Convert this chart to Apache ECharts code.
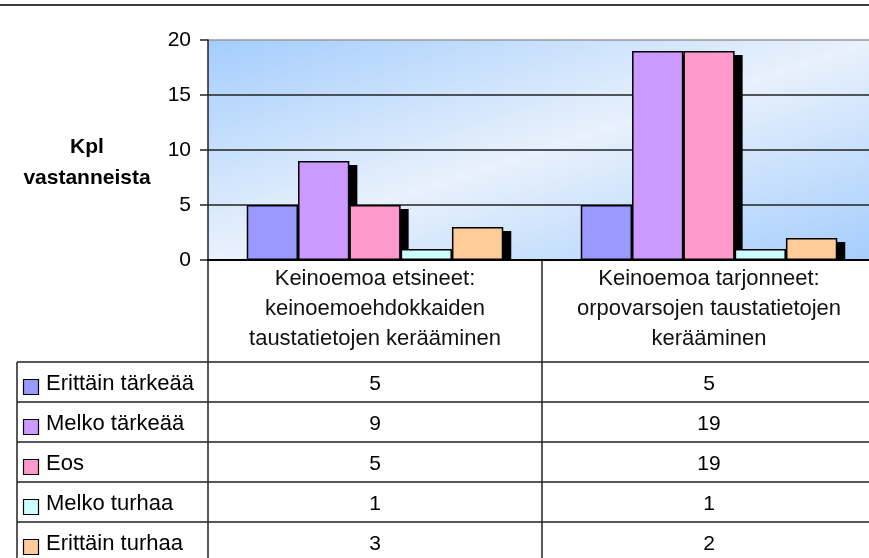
<!DOCTYPE html>
<html>
<head>
<meta charset="utf-8">
<script src="https://cdn.jsdelivr.net/npm/echarts@6/dist/echarts.min.js"></script>
<style>
html, body { margin: 0; padding: 0; background: #fff; }
#chart { width: 869px; height: 558px; }
</style>
</head>
<body>
<div id="chart"></div>
<script>
// data
var categories = [
	'Keinoemoa etsineet:\nkeinoemoehdokkaiden\ntaustatietojen kerääminen',
	'Keinoemoa tarjonneet:\norpovarsojen taustatietojen\nkerääminen'
];
var seriesNames = ['Erittäin tärkeää', 'Melko tärkeää', 'Eos', 'Melko turhaa', 'Erittäin turhaa'];
var seriesColors = ['#9999ff', '#cc99ff', '#ff99cc', '#ccffff', '#ffcc99'];
var erittainTarkeaa = [5, 5];
var melkoTarkeaa = [9, 19];
var eos = [5, 19];
var melkoTurhaa = [1, 1];
var erittainTurhaa = [3, 2];
var seriesValues = [erittainTarkeaa, melkoTarkeaa, eos, melkoTurhaa, erittainTurhaa];
var yMax = 20;
var yStep = 5;
var yName = 'Kpl\nvastanneista';

var font = 'Liberation Sans, Arial, sans-serif';
var plotLeft = 208, plotTop = 40, plotWidth = 668, plotHeight = 220;
var plotBottom = plotTop + plotHeight;
var tableTop = 362, rowH = 40, tableLeft = 17, pageW = 869, pageH = 558;
var gapRatio = 0.232;
var nBars = seriesNames.length;

var myChart = echarts.init(document.getElementById('chart'));

var series = [];
for (var i = 0; i < nBars; i++) {
	series.push({
		name: seriesNames[i],
		type: 'bar',
		z: 3,
		data: seriesValues[i],
		barGap: 0,
		barCategoryGap: (gapRatio * 100) + '%',
		itemStyle: { color: seriesColors[i], borderColor: '#000', borderWidth: 1.5 },
		emphasis: { disabled: true }
	});
}

// black drop shadows behind the bars
var shadowData = [];
for (var s = 0; s < nBars; s++) {
	for (var c = 0; c < categories.length; c++) {
		shadowData.push([c, seriesValues[s][c], s]);
	}
}
series.push({
	name: 'shadow',
	type: 'custom',
	z: 1,
	silent: true,
	data: shadowData,
	encode: { x: 0, y: 1 },
	renderItem: function (params, api) {
		var cat = api.value(0), val = api.value(1), idx = api.value(2);
		var topPt = api.coord([cat, val]);
		var basePt = api.coord([cat, 0]);
		var band = api.size([1, 0])[0];
		var bw = band * (1 - gapRatio) / nBars;
		var x = topPt[0] - band * (1 - gapRatio) / 2 + idx * bw;
		return {
			type: 'rect',
			shape: { x: x + 8, y: topPt[1] + 4, width: bw, height: Math.max(0, basePt[1] - topPt[1] - 4) },
			style: { fill: '#000' }
		};
	}
});

var option = {
	animation: false,
	grid: {
		left: plotLeft,
		top: plotTop,
		width: plotWidth,
		height: plotHeight,
		outerBoundsMode: 'none',
		containLabel: false,
		show: true,
		borderWidth: 0,
		backgroundColor: new echarts.graphic.LinearGradient(0.402, -0.402, 0.598, 1.402, [
			{ offset: 0, color: '#a4cdfd' },
			{ offset: 0.5, color: '#e8f1fc' },
			{ offset: 1, color: '#a4cdfd' }
		])
	},
	xAxis: {
		type: 'category',
		data: categories,
		z: 60,
		axisLine: { lineStyle: { color: '#000', width: 2 } },
		axisTick: { show: false },
		axisLabel: {
			margin: 4,
			interval: 0,
			fontFamily: font,
			fontSize: 22,
			lineHeight: 30,
			color: '#111'
		}
	},
	yAxis: {
		type: 'value',
		min: 0,
		max: yMax,
		interval: yStep,
		axisLine: { show: true, lineStyle: { color: '#222', width: 1.5 } },
		axisTick: { show: true, length: 8, lineStyle: { color: '#222', width: 1.5 } },
		axisLabel: { margin: 17, fontFamily: font, fontSize: 21, color: '#000' },
		splitLine: { lineStyle: { color: ['#000', '#222', '#222', '#222', '#999'], width: 1.5 } }
	},
	series: series
};
myChart.setOption(option);

// data table under the plot, placed from the category axis
var colCenters = categories.map(function (cat, k) {
	return myChart.convertToPixel({ xAxisIndex: 0 }, k);
});
var divider = (colCenters[0] + colCenters[1]) / 2;
var lineStyle = { stroke: '#222', lineWidth: 1.5 };
var els = [];
els.push({ type: 'text', z: 70, style: { x: 87, y: 163, text: yName, fill: '#000', font: 'bold 21px ' + font, lineHeight: 31, textAlign: 'center', textVerticalAlign: 'middle' } });
els.push({ type: 'line', z: 70, shape: { x1: 0, y1: 5, x2: pageW, y2: 5 }, style: { stroke: '#3c3c3c', lineWidth: 2 } });
els.push({ type: 'line', z: 70, shape: { x1: plotLeft, y1: plotBottom, x2: plotLeft, y2: pageH }, style: lineStyle });
els.push({ type: 'line', z: 70, shape: { x1: divider, y1: plotBottom, x2: divider, y2: pageH }, style: lineStyle });
els.push({ type: 'line', z: 70, shape: { x1: tableLeft, y1: tableTop, x2: tableLeft, y2: pageH }, style: lineStyle });
for (var r = 0; r < nBars; r++) {
	var rowTop = tableTop + r * rowH;
	els.push({ type: 'line', z: 70, shape: { x1: tableLeft, y1: rowTop, x2: pageW, y2: rowTop }, style: lineStyle });
	els.push({ type: 'rect', z: 70, shape: { x: 23.5, y: rowTop + 17.5, width: 15, height: 15 }, style: { fill: seriesColors[r], stroke: '#000', lineWidth: 1.2 } });
	els.push({ type: 'text', z: 70, style: { x: 46, y: rowTop + 22, text: seriesNames[r], fill: '#000', font: '22px ' + font, textVerticalAlign: 'middle' } });
	for (var k = 0; k < categories.length; k++) {
		els.push({ type: 'text', z: 70, style: { x: colCenters[k], y: rowTop + 22, text: String(seriesValues[r][k]), fill: '#000', font: '21px ' + font, textAlign: 'center', textVerticalAlign: 'middle' } });
	}
}
myChart.setOption({ graphic: { elements: els } });
</script>
</body>
</html>
